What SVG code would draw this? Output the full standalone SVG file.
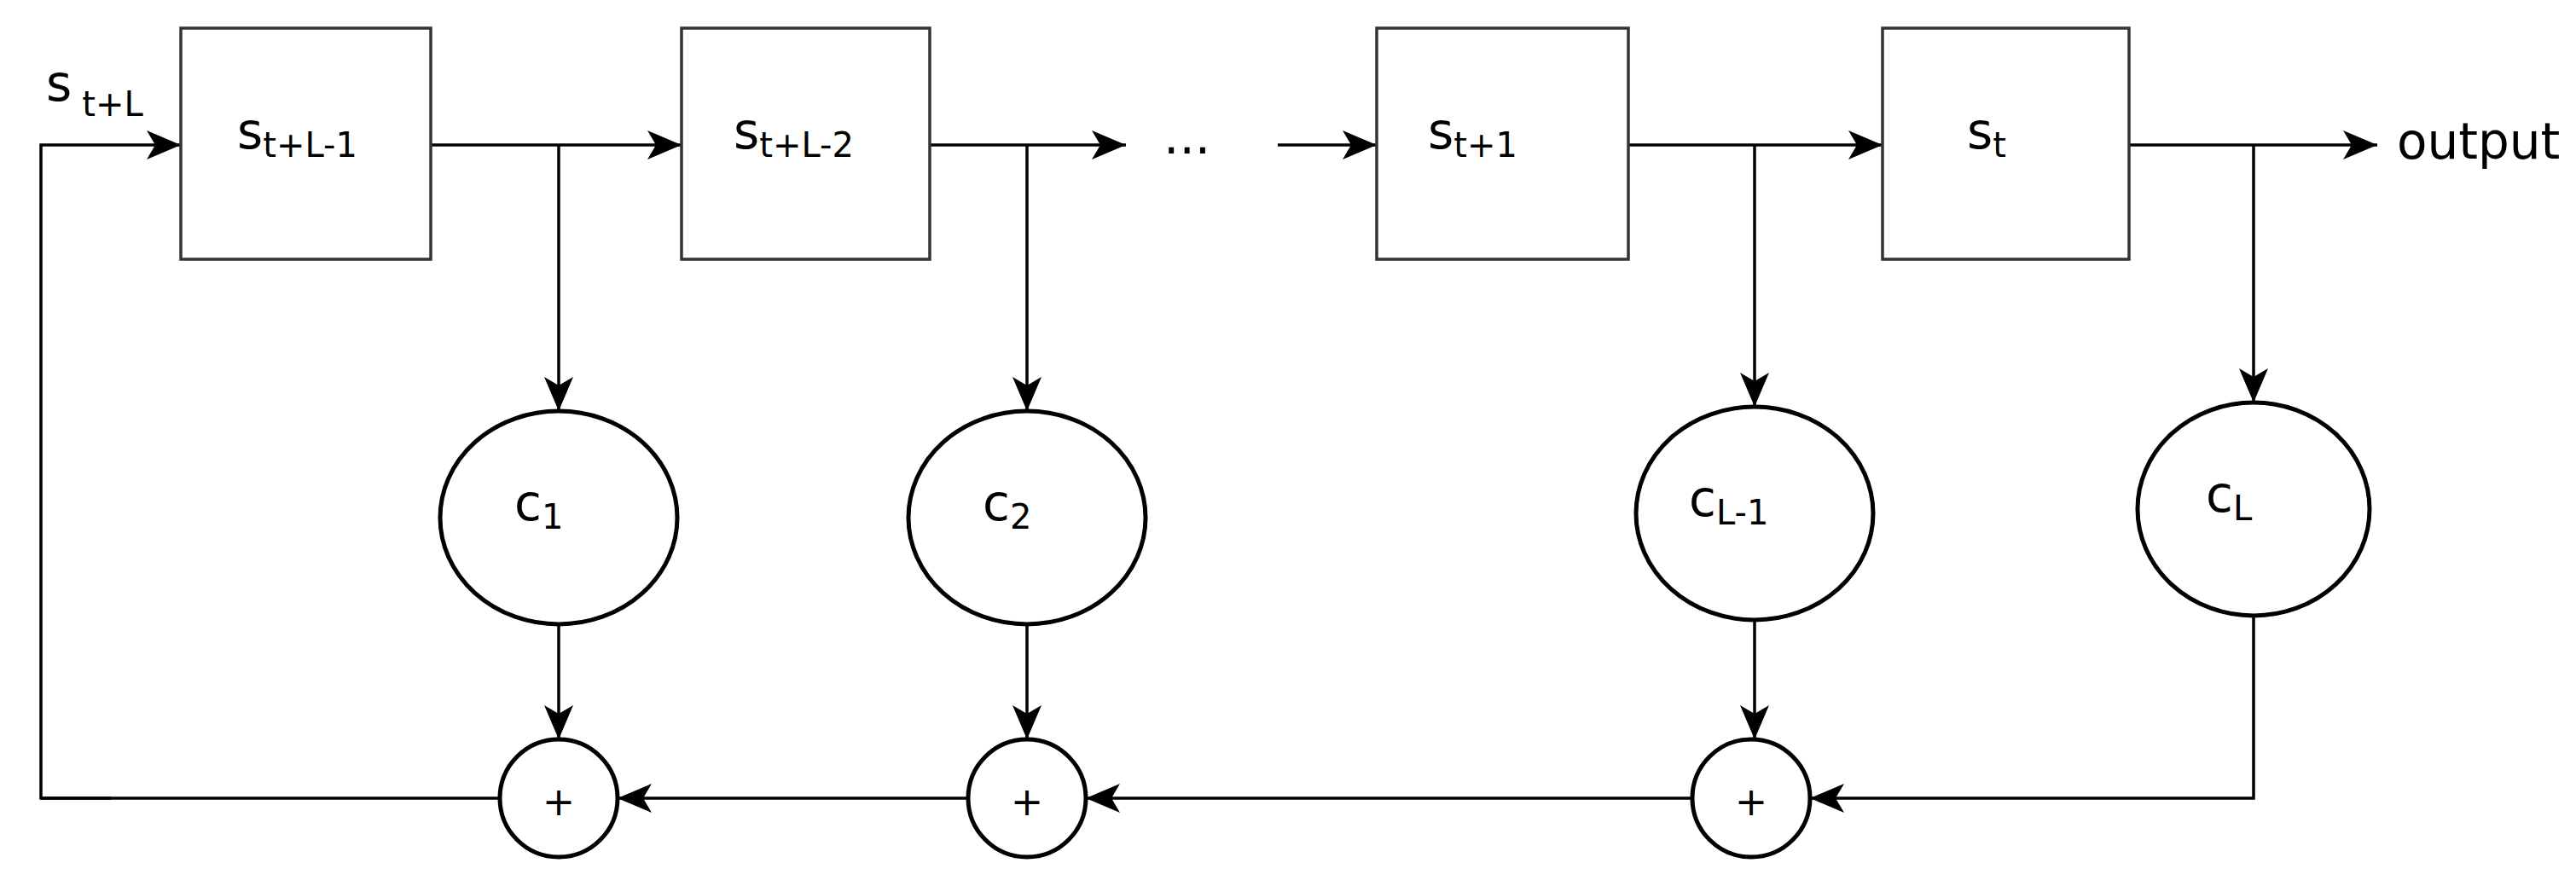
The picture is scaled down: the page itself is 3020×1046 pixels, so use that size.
<svg xmlns="http://www.w3.org/2000/svg" width="3020" height="1046" viewBox="0 0 3020 1046">
<defs>
<marker id="ar" viewBox="0 0 40 34" refX="40" refY="17" markerWidth="40" markerHeight="34" markerUnits="userSpaceOnUse" orient="auto">
<path d="M0,0 L40,17 L0,34 L10,17 Z" fill="#000"/>
</marker>
<style>
.b{fill:#fff;stroke:#333;stroke-width:3.5}
.e{fill:#fff;stroke:#000;stroke-width:5}
.c{fill:none;stroke:#000;stroke-width:3.5}
.t{font-family:"DejaVu Sans",sans-serif;font-size:58px;fill:#000}
.s{font-size:40px}
</style>
</defs>
<g id="connectors" class="c">
<path d="M130,936 H48 V170 H212" marker-end="url(#ar)"/>
<path d="M505,170 H799" marker-end="url(#ar)"/>
<path d="M1090,170 H1320" marker-end="url(#ar)"/>
<path d="M1498,170 H1614" marker-end="url(#ar)"/>
<path d="M1909,170 H2207" marker-end="url(#ar)"/>
<path d="M2496,170 H2787" marker-end="url(#ar)"/>
<path d="M655,170 V482" marker-end="url(#ar)"/>
<path d="M1204,170 V482" marker-end="url(#ar)"/>
<path d="M2057,170 V477" marker-end="url(#ar)"/>
<path d="M2642,170 V472" marker-end="url(#ar)"/>
<path d="M655,732 V867" marker-end="url(#ar)"/>
<path d="M1204,732 V867" marker-end="url(#ar)"/>
<path d="M2057,727 V867" marker-end="url(#ar)"/>
<path d="M2642,722 V936 H2122" marker-end="url(#ar)"/>
<path d="M1984,936 H1273" marker-end="url(#ar)"/>
<path d="M1135,936 H724" marker-end="url(#ar)"/>
<path d="M586,936 H48"/>
</g>
<g id="lbl-in"><text class="t" x="54" y="118">s<tspan class="s" dx="12" dy="18">t+L</tspan></text></g>
<g id="box1"><rect class="b" x="212" y="33" width="293" height="271"/><text class="t" x="278" y="174">s<tspan class="s" dy="10">t+L-1</tspan></text></g>
<g id="box2"><rect class="b" x="799" y="33" width="291" height="271"/><text class="t" x="860" y="174">s<tspan class="s" dy="10">t+L-2</tspan></text></g>
<g id="dots"><text class="t" x="1364" y="180">...</text></g>
<g id="box3"><rect class="b" x="1614" y="33" width="295" height="271"/><text class="t" x="1674" y="174">s<tspan class="s" dy="10">t+1</tspan></text></g>
<g id="box4"><rect class="b" x="2207" y="33" width="289" height="271"/><text class="t" x="2306" y="174">s<tspan class="s" dy="10">t</tspan></text></g>
<g id="out"><text class="t" x="2810" y="186">output</text></g>
<g id="c1"><ellipse class="e" cx="655" cy="607" rx="139" ry="125"/><text class="t" x="603" y="610">c<tspan class="s" dy="10">1</tspan></text></g>
<g id="c2"><ellipse class="e" cx="1204" cy="607" rx="139" ry="125"/><text class="t" x="1152" y="610">c<tspan class="s" dy="10">2</tspan></text></g>
<g id="cL1"><ellipse class="e" cx="2057" cy="602" rx="139" ry="125"/><text class="t" x="1980" y="605">c<tspan class="s" dy="10">L-1</tspan></text></g>
<g id="cL"><ellipse class="e" cx="2642" cy="597" rx="136" ry="125"/><text class="t" x="2586" y="600">c<tspan class="s" dy="10">L</tspan></text></g>
<g id="p1"><circle class="e" cx="655" cy="936" r="69"/><text class="t" x="655" y="956" text-anchor="middle" style="font-size:46px">+</text></g>
<g id="p2"><circle class="e" cx="1204" cy="936" r="69"/><text class="t" x="1204" y="956" text-anchor="middle" style="font-size:46px">+</text></g>
<g id="p3"><circle class="e" cx="2053" cy="936" r="69"/><text class="t" x="2053" y="956" text-anchor="middle" style="font-size:46px">+</text></g>
</svg>
